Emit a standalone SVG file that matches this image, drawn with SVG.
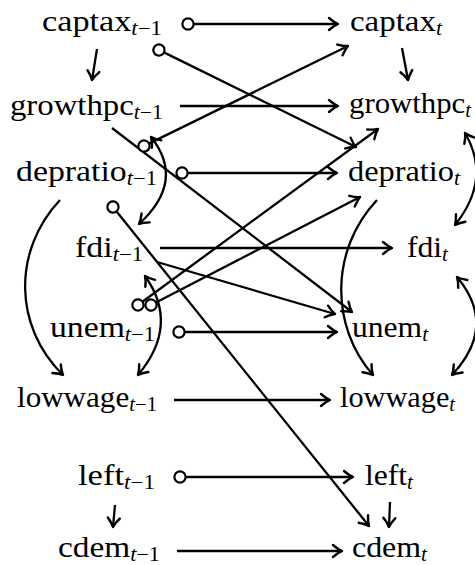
<svg xmlns="http://www.w3.org/2000/svg" width="475" height="565" viewBox="0 0 475 565">
<style>
text{font-family:"Liberation Serif","Times New Roman",serif;font-size:30px;fill:#000}
.s{font-size:20px}
.i{font-style:italic}
.e{fill:none;stroke:#000;stroke-width:2.3}
.a{marker-end:url(#ah)}
.o{marker-start:url(#oc)}
.d{marker-start:url(#ahs);marker-end:url(#ah)}
</style>
<defs>
<marker id="ah" markerUnits="userSpaceOnUse" orient="auto" overflow="visible" refX="0" refY="0" markerWidth="1" markerHeight="1"><path d="M-9,-6 C-5.5,-3 -2,-0.8 0,0 C-2,0.8 -5.5,3 -9,6" fill="none" stroke="#000" stroke-width="2.4" stroke-linecap="round" stroke-linejoin="round"/></marker>
<marker id="ahs" markerUnits="userSpaceOnUse" orient="auto-start-reverse" overflow="visible" refX="0" refY="0" markerWidth="1" markerHeight="1"><path d="M-9,-6 C-5.5,-3 -2,-0.8 0,0 C-2,0.8 -5.5,3 -9,6" fill="none" stroke="#000" stroke-width="2.4" stroke-linecap="round" stroke-linejoin="round"/></marker>
<marker id="oc" markerUnits="userSpaceOnUse" orient="auto" overflow="visible" refX="0" refY="0" markerWidth="1" markerHeight="1"><circle cx="-5.5" cy="0" r="5.6" fill="#fff" stroke="#000" stroke-width="2.2"/></marker>
</defs>
<g id="connectors" class="e">
<line class="e a o" x1="193.5" y1="24" x2="338" y2="24"/>
<line class="e a o" x1="163.9" y1="52.4" x2="356" y2="147"/>
<line class="e a" x1="97" y1="49" x2="92" y2="80"/>
<line class="e a" x1="402" y1="48" x2="408" y2="80"/>
<line class="e a" x1="180" y1="106" x2="338" y2="106"/>
<line class="e a" x1="112" y1="128" x2="352" y2="312"/>
<line class="e a o" x1="148.9" y1="143.6" x2="348" y2="46"/>
<line class="e a o" x1="187.5" y1="173" x2="337" y2="173"/>
<line class="e a o" x1="116.4" y1="211.3" x2="369" y2="526"/>
<path class="e d" d="M151,137 Q186,181 139,224"/>
<line class="e a" x1="160" y1="248" x2="392" y2="248"/>
<line class="e a" x1="157" y1="262" x2="335" y2="314"/>
<line class="e a o" x1="142.4" y1="301.7" x2="378" y2="129"/>
<line class="e a o" x1="155.9" y1="302.5" x2="360" y2="197"/>
<line class="e a o" x1="184.5" y1="332" x2="337" y2="332"/>
<path class="e a" d="M60,200 C13,250 13,326 63,375"/>
<path class="e d" d="M145,276 Q180,325 138,375"/>
<line class="e a" x1="174" y1="400" x2="330" y2="400"/>
<path class="e a" d="M377,200 C330,250 330,326 373,375"/>
<path class="e d" d="M465,133 Q492,179 455,225"/>
<path class="e d" d="M457,277 Q498,326 452,375"/>
<line class="e a o" x1="185.5" y1="477" x2="353" y2="477"/>
<line class="e a" x1="115" y1="505" x2="113" y2="527"/>
<line class="e a" x1="390" y1="502" x2="389" y2="527"/>
<line class="e a" x1="177" y1="551" x2="342" y2="551"/>
</g>
<g id="captax_t-1"><text x="42" y="31" textLength="120" lengthAdjust="spacingAndGlyphs">captax<tspan class="s" dy="4"><tspan class="i">t</tspan>−1</tspan></text></g>
<g id="growthpc_t-1"><text x="10" y="115" textLength="153" lengthAdjust="spacingAndGlyphs">growthpc<tspan class="s" dy="4"><tspan class="i">t</tspan>−1</tspan></text></g>
<g id="depratio_t-1"><text x="16" y="181" textLength="141" lengthAdjust="spacingAndGlyphs">depratio<tspan class="s" dy="4"><tspan class="i">t</tspan>−1</tspan></text></g>
<g id="fdi_t-1"><text x="75" y="257" textLength="68" lengthAdjust="spacingAndGlyphs">fdi<tspan class="s" dy="4"><tspan class="i">t</tspan>−1</tspan></text></g>
<g id="unem_t-1"><text x="50" y="337" textLength="105" lengthAdjust="spacingAndGlyphs">unem<tspan class="s" dy="4"><tspan class="i">t</tspan>−1</tspan></text></g>
<g id="lowwage_t-1"><text x="17" y="407" textLength="140" lengthAdjust="spacingAndGlyphs">lowwage<tspan class="s" dy="4"><tspan class="i">t</tspan>−1</tspan></text></g>
<g id="left_t-1"><text x="78" y="485" textLength="77" lengthAdjust="spacingAndGlyphs">left<tspan class="s" dy="4"><tspan class="i">t</tspan>−1</tspan></text></g>
<g id="cdem_t-1"><text x="58" y="557" textLength="102" lengthAdjust="spacingAndGlyphs">cdem<tspan class="s" dy="4"><tspan class="i">t</tspan>−1</tspan></text></g>
<g id="captax_t"><text x="350" y="31" textLength="92" lengthAdjust="spacingAndGlyphs">captax<tspan class="s i" dy="4">t</tspan></text></g>
<g id="growthpc_t"><text x="349" y="113" textLength="122" lengthAdjust="spacingAndGlyphs">growthpc<tspan class="s i" dy="4">t</tspan></text></g>
<g id="depratio_t"><text x="348" y="181" textLength="112" lengthAdjust="spacingAndGlyphs">depratio<tspan class="s i" dy="4">t</tspan></text></g>
<g id="fdi_t"><text x="407" y="257" textLength="41" lengthAdjust="spacingAndGlyphs">fdi<tspan class="s i" dy="4">t</tspan></text></g>
<g id="unem_t"><text x="352" y="337" textLength="76" lengthAdjust="spacingAndGlyphs">unem<tspan class="s i" dy="4">t</tspan></text></g>
<g id="lowwage_t"><text x="340" y="407" textLength="115" lengthAdjust="spacingAndGlyphs">lowwage<tspan class="s i" dy="4">t</tspan></text></g>
<g id="left_t"><text x="365" y="485" textLength="48" lengthAdjust="spacingAndGlyphs">left<tspan class="s i" dy="4">t</tspan></text></g>
<g id="cdem_t"><text x="352" y="557" textLength="75" lengthAdjust="spacingAndGlyphs">cdem<tspan class="s i" dy="4">t</tspan></text></g>
</svg>
